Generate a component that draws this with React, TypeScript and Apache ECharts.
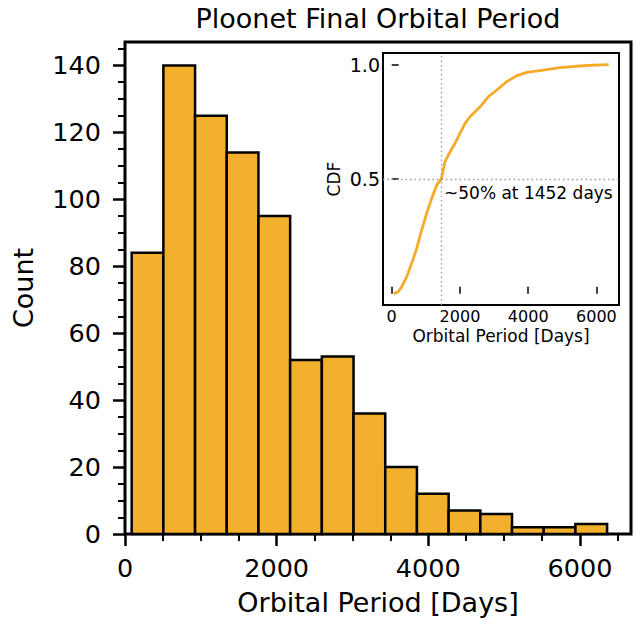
import React, { useEffect, useRef } from "react";
import * as echarts from "echarts";

const titleText = "Ploonet Final Orbital Period";
const xLabel = "Orbital Period [Days]";
const yLabel = "Count";
const binEdges = [88, 506, 924, 1342, 1760, 2178, 2596, 3014, 3432, 3850, 4268, 4686, 5104, 5522, 5940, 6358];
const counts = [84, 140, 125, 114, 95, 52, 53, 36, 20, 12, 7, 6, 2, 2, 3];
const xTicks = [0, 2000, 4000, 6000];
const yTicks = [0, 20, 40, 60, 80, 100, 120, 140];

const cdfX = [60, 193, 293, 439, 585, 732, 878, 1024, 1171, 1317, 1452, 1560, 1707, 1853, 2000, 2146, 2292, 2488, 2634, 2827, 3073, 3366, 3659, 3951, 4341, 4927, 5707, 6358];
const cdfY = [0.001, 0.009, 0.031, 0.074, 0.133, 0.198, 0.278, 0.351, 0.416, 0.474, 0.5, 0.576, 0.619, 0.656, 0.7, 0.743, 0.772, 0.801, 0.823, 0.859, 0.888, 0.925, 0.951, 0.966, 0.974, 0.987, 0.996, 1.0];
const insetXTicks = [0, 2000, 4000, 6000];
const insetYTicks = [0.5, 1.0];
const medianDays = 1452;
const medianFrac = 0.5;
const annotation = "~50% at 1452 days";
const insetXLabel = "Orbital Period [Days]";
const insetYLabel = "CDF";

const BAR = "#F2B02C";
const LINE = "#F5AA2A";
const FONT = "DejaVu Sans";

export default function App() {
  const ref = useRef<HTMLDivElement>(null);
  useEffect(() => {
    if (!ref.current) return;
    const chart = echarts.init(ref.current, undefined, { renderer: "svg" });
    const histData = counts.map((c, i) => [binEdges[i], binEdges[i + 1], c]);
    const cdfData = cdfX.map((x, i) => [x, cdfY[i]]);
    chart.setOption({
      animation: false,
      backgroundColor: "#fff",
      textStyle: { fontFamily: FONT },
      grid: [
        { left: 125, top: 42, width: 506, height: 492, show: true, borderColor: "#000", borderWidth: 3, backgroundColor: "transparent", containLabel: false },
        { left: 383, top: 53, width: 236, height: 252, show: true, borderColor: "#000", borderWidth: 2, backgroundColor: "#fff", containLabel: false },
      ],
      xAxis: [
        {
          type: "value", gridIndex: 0, min: 0, max: 6673, interval: 2000,
          axisLine: { show: false },
          axisTick: { show: true, inside: false, length: 12, lineStyle: { color: "#000", width: 2.5 }, customValues: xTicks },
          minorTick: { show: true, splitNumber: 4, length: 7, lineStyle: { color: "#000", width: 2 } },
          axisLabel: { fontSize: 25.5, color: "#000", margin: 21, fontFamily: FONT, customValues: xTicks, formatter: (v: number) => String(v) },
          splitLine: { show: false }, minorSplitLine: { show: false },
          name: xLabel, nameLocation: "middle", nameGap: 55,
          nameTextStyle: { fontSize: 27, color: "#000", fontFamily: FONT },
        },
        {
          type: "value", gridIndex: 1, min: -255, max: 6661,
          axisLine: { show: false },
          axisTick: { show: true, inside: true, length: 7, lineStyle: { color: "#000", width: 1.5 }, customValues: insetXTicks },
          axisLabel: { fontSize: 16, color: "#000", margin: 3, fontFamily: FONT, customValues: insetXTicks, formatter: (v: number) => String(v) },
          splitLine: { show: false },
          name: insetXLabel, nameLocation: "middle", nameGap: 22,
          nameTextStyle: { fontSize: 17, color: "#000", fontFamily: FONT },
        },
      ],
      yAxis: [
        {
          type: "value", gridIndex: 0, min: 0, max: 147, interval: 20,
          axisLine: { show: false },
          axisTick: { show: true, inside: false, length: 12, lineStyle: { color: "#000", width: 2.5 }, customValues: yTicks },
          minorTick: { show: true, splitNumber: 4, length: 7, lineStyle: { color: "#000", width: 2 } },
          axisLabel: { fontSize: 25.5, color: "#000", margin: 24, fontFamily: FONT, customValues: yTicks, formatter: (v: number) => String(v) },
          splitLine: { show: false }, minorSplitLine: { show: false },
          name: yLabel, nameLocation: "middle", nameGap: 88,
          nameTextStyle: { fontSize: 27, color: "#000", fontFamily: FONT },
        },
        {
          type: "value", gridIndex: 1, min: -0.0487, max: 1.0506,
          axisLine: { show: false },
          axisTick: { show: true, inside: true, length: 7, lineStyle: { color: "#000", width: 1.5 }, customValues: insetYTicks },
          axisLabel: { fontSize: 19, color: "#000", margin: 3, fontFamily: FONT, customValues: insetYTicks, formatter: (v: number) => v.toFixed(1) },
          splitLine: { show: false },
          name: insetYLabel, nameLocation: "middle", nameGap: 41,
          nameTextStyle: { fontSize: 17, color: "#000", fontFamily: FONT },
        },
      ],
      series: [
        {
          type: "custom", xAxisIndex: 0, yAxisIndex: 0,
          data: histData,
          encode: { x: [0, 1], y: 2 },
          renderItem: (params: any, api: any) => {
            const p0 = api.coord([api.value(0), api.value(2)]);
            const p1 = api.coord([api.value(1), 0]);
            return {
              type: "rect",
              shape: { x: p0[0], y: p0[1], width: p1[0] - p0[0], height: p1[1] - p0[1] },
              style: { fill: BAR, stroke: "#000", lineWidth: 2.5 },
            };
          },
        },
        {
          type: "line", xAxisIndex: 1, yAxisIndex: 1,
          data: cdfData, showSymbol: false, symbol: "none",
          lineStyle: { color: LINE, width: 2.8 },
          markLine: {
            silent: true, symbol: "none", label: { show: false },
            lineStyle: { type: [1.5, 3], color: "#999", width: 1.3 },
            data: [{ xAxis: medianDays }, { yAxis: medianFrac }],
          },
          z: 3,
        },
      ],
      graphic: [
        { type: "text", x: 378, y: 18, style: { text: titleText, fontSize: 27, fontFamily: FONT, fill: "#000", textAlign: "center", textVerticalAlign: "middle" } },
        { type: "text", x: 444, y: 193, z: 10, style: { text: annotation, fontSize: 17, fontFamily: FONT, fill: "#000", textAlign: "left", textVerticalAlign: "middle" } },
      ],
    });
    return () => chart.dispose();
  }, []);
  return <div ref={ref} style={{ width: 644, height: 622, position: "absolute", left: 0, top: 0 }} />;
}
